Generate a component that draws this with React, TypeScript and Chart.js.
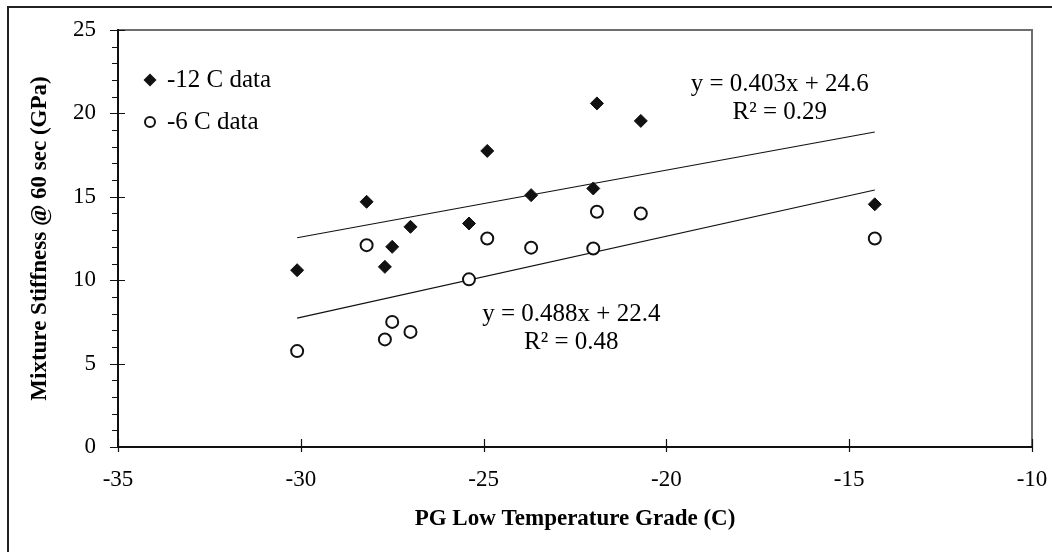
import React, { useEffect, useRef } from "react";
import { Chart, registerables } from "chart.js";

Chart.register(...registerables);

// ---- data ----
const xTickValues = [-35, -30, -25, -20, -15, -10];
const yTickValues = [0, 5, 10, 15, 20, 25];

const seriesNames = ["-12 C data", "-6 C data"];

const grade12 = [-30.1, -28.2, -27.7, -27.5, -27.0, -25.4, -24.9, -23.7, -22.0, -21.9, -20.7, -14.3];
const stiff12 = [10.6, 14.7, 10.8, 12.0, 13.2, 13.4, 17.75, 15.1, 15.5, 20.6, 19.55, 14.55];

const grade6 = [-30.1, -28.2, -27.7, -27.5, -27.0, -25.4, -24.9, -23.7, -22.0, -21.9, -20.7, -14.3];
const stiff6 = [5.75, 12.1, 6.45, 7.5, 6.9, 10.05, 12.5, 11.95, 11.9, 14.1, 14.0, 12.5];

const eqText12 = ["y = 0.403x + 24.6", "R² = 0.29"];
const eqText6 = ["y = 0.488x + 22.4", "R² = 0.48"];
// anchor of each equation label, in data units (x, y)
const eqAnchor12 = [-16.9, 20.9];
const eqAnchor6 = [-22.6, 7.1];

const xTitle = "PG Low Temperature Grade (C)";
const yTitle = "Mixture Stiffness @ 60 sec (GPa)";

const FONT = "'Liberation Serif', 'Times New Roman', serif";

function fitLine(xs: number[], ys: number[]) {
  const n = xs.length;
  const mx = xs.reduce((a, b) => a + b, 0) / n;
  const my = ys.reduce((a, b) => a + b, 0) / n;
  let sxy = 0;
  let sxx = 0;
  for (let i = 0; i < n; i++) {
    sxy += (xs[i] - mx) * (ys[i] - my);
    sxx += (xs[i] - mx) * (xs[i] - mx);
  }
  const b = sxy / sxx;
  const a = my - b * mx;
  const x0 = Math.min(...xs);
  const x1 = Math.max(...xs);
  return [
    { x: x0, y: a + b * x0 },
    { x: x1, y: a + b * x1 },
  ];
}

const decorPlugin = {
  id: "decor",
  afterDraw(chart: any) {
    const { ctx, chartArea } = chart;
    const xs = chart.scales.x;
    const ys = chart.scales.y;
    const { left, right, top, bottom } = chartArea;
    ctx.save();

    // top & right frame (grey)
    ctx.strokeStyle = "#6e6e6e";
    ctx.lineWidth = 2;
    ctx.beginPath();
    ctx.moveTo(left, top);
    ctx.lineTo(right, top);
    ctx.lineTo(right, bottom);
    ctx.stroke();

    // axes (black)
    ctx.strokeStyle = "#111";
    ctx.lineWidth = 2;
    ctx.beginPath();
    ctx.moveTo(left, top - 1);
    ctx.lineTo(left, bottom);
    ctx.lineTo(right, bottom);
    ctx.stroke();

    // y ticks
    ctx.lineWidth = 1.2;
    ctx.beginPath();
    for (let v = 0; v <= 25; v++) {
      const py = Math.round(ys.getPixelForValue(v)) + 0.5;
      if (v % 5 === 0) {
        ctx.moveTo(left - 8, py);
        ctx.lineTo(left + 7, py);
      } else {
        ctx.moveTo(left - 6, py);
        ctx.lineTo(left, py);
      }
    }
    // x ticks
    for (const v of xTickValues) {
      const px = Math.round(xs.getPixelForValue(v)) + 0.5;
      ctx.moveTo(px, bottom - 8);
      ctx.lineTo(px, bottom + 5);
    }
    ctx.stroke();

    // legend
    const lx = left + 32;
    const ly1 = top + 50;
    const ly2 = top + 92;
    ctx.fillStyle = "#111";
    ctx.beginPath();
    ctx.moveTo(lx - 6.5, ly1);
    ctx.lineTo(lx, ly1 - 6.5);
    ctx.lineTo(lx + 6.5, ly1);
    ctx.lineTo(lx, ly1 + 6.5);
    ctx.closePath();
    ctx.fill();
    ctx.strokeStyle = "#111";
    ctx.lineWidth = 2;
    ctx.fillStyle = "#fff";
    ctx.beginPath();
    ctx.arc(lx, ly2, 5, 0, Math.PI * 2);
    ctx.fill();
    ctx.stroke();

    ctx.fillStyle = "#000";
    ctx.font = `25px ${FONT}`;
    ctx.textAlign = "left";
    ctx.textBaseline = "middle";
    ctx.fillText(seriesNames[0], lx + 17, ly1);
    ctx.fillText(seriesNames[1], lx + 17, ly2);

    // equations
    ctx.font = `25px ${FONT}`;
    ctx.textAlign = "center";
    const drawEq = (lines: string[], anchor: number[]) => {
      const cx = xs.getPixelForValue(anchor[0]);
      const cy = ys.getPixelForValue(anchor[1]);
      ctx.fillText(lines[0], cx, cy - 14);
      ctx.fillText(lines[1], cx, cy + 14);
    };
    drawEq(eqText12, eqAnchor12);
    drawEq(eqText6, eqAnchor6);

    ctx.restore();
  },
};

export default function App() {
  const canvasRef = useRef<HTMLCanvasElement | null>(null);

  useEffect(() => {
    const canvas = canvasRef.current;
    if (!canvas) return;
    const chart = new Chart(canvas, {
      type: "scatter",
      data: {
        datasets: [
          {
            type: "line",
            label: "trend12",
            data: fitLine(grade12, stiff12),
            borderColor: "#111",
            borderWidth: 1.2,
            pointRadius: 0,
            fill: false,
            order: 3,
          } as any,
          {
            type: "line",
            label: "trend6",
            data: fitLine(grade6, stiff6),
            borderColor: "#111",
            borderWidth: 1.2,
            pointRadius: 0,
            fill: false,
            order: 3,
          } as any,
          {
            label: seriesNames[0],
            data: grade12.map((x, i) => ({ x, y: stiff12[i] })),
            pointStyle: "rectRot",
            pointRadius: 6.5,
            backgroundColor: "#111",
            borderColor: "#111",
            borderWidth: 1,
            order: 1,
          },
          {
            label: seriesNames[1],
            data: grade6.map((x, i) => ({ x, y: stiff6[i] })),
            pointStyle: "circle",
            pointRadius: 6,
            backgroundColor: "#fff",
            borderColor: "#111",
            borderWidth: 2,
            order: 1,
          },
        ],
      },
      options: {
        responsive: false,
        animation: false,
        events: [],
        layout: { padding: { top: 30, right: 20, bottom: 0, left: 0 } },
        plugins: {
          legend: { display: false },
          tooltip: { enabled: false },
        },
        scales: {
          x: {
            type: "linear",
            min: xTickValues[0],
            max: xTickValues[xTickValues.length - 1],
            afterBuildTicks: (s: any) => {
              s.ticks = xTickValues.map((v) => ({ value: v }));
            },
            ticks: {
              color: "#000",
              font: { family: FONT, size: 23 },
              padding: 19,
              maxRotation: 0,
              callback: (v: any) => String(v),
            },
            grid: { display: false, drawTicks: false },
            border: { display: false },
            title: {
              display: true,
              text: xTitle,
              color: "#000",
              font: { family: FONT, size: 23, weight: "bold" },
              padding: { top: 0, bottom: 19 },
            },
            afterFit: (s: any) => {
              s.height = 105;
              s.paddingLeft = 0;
              s.paddingRight = 0;
              s.paddingTop = 0;
              s.paddingBottom = 0;
            },
          },
          y: {
            type: "linear",
            min: yTickValues[0],
            max: yTickValues[yTickValues.length - 1],
            afterBuildTicks: (s: any) => {
              s.ticks = yTickValues.map((v) => ({ value: v }));
            },
            ticks: {
              color: "#000",
              font: { family: FONT, size: 23 },
              padding: 22,
              callback: (v: any) => String(v),
            },
            grid: { display: false, drawTicks: false },
            border: { display: false },
            title: {
              display: true,
              text: yTitle,
              color: "#000",
              font: { family: FONT, size: 23, weight: "bold" },
              padding: { top: 26, bottom: 0 },
            },
            afterFit: (s: any) => {
              s.width = 118;
              s.paddingLeft = 0;
              s.paddingRight = 0;
              s.paddingTop = 0;
              s.paddingBottom = 0;
            },
          },
        },
      },
      plugins: [decorPlugin],
    });
    return () => chart.destroy();
  }, []);

  return (
    <div
      style={{
        position: "fixed",
        left: 0,
        top: 0,
        width: 1052,
        height: 552,
        overflow: "hidden",
        background: "#fff",
      }}
    >
      <div
        style={{
          position: "absolute",
          left: 7,
          top: 6,
          width: 1200,
          height: 700,
          border: "2px solid #222",
          boxSizing: "border-box",
        }}
      />
      <canvas
        ref={canvasRef}
        width={1052}
        height={552}
        style={{ position: "absolute", left: 0, top: 0, width: 1052, height: 552 }}
      />
    </div>
  );
}
